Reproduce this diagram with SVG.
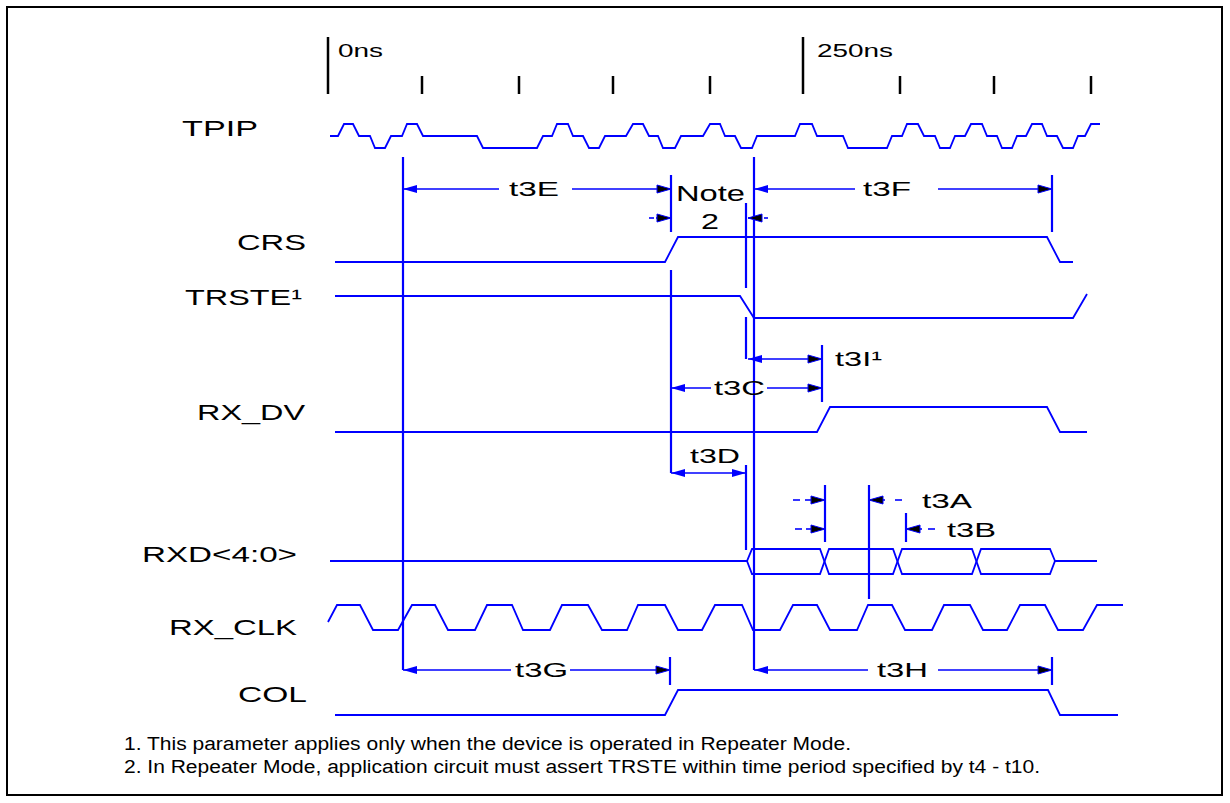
<svg xmlns="http://www.w3.org/2000/svg" width="1230" height="803" viewBox="0 0 1230 803">
<style>
.w{fill:none;stroke:#0000ff;stroke-width:1.8;stroke-linejoin:miter}
.v{stroke:#0000ff;stroke-width:2.2;fill:none}
.a{stroke:#0000ff;stroke-width:1.6;fill:none}
.tick{stroke:#000;stroke-width:2.5}
text{font-family:"Liberation Sans",Arial,Helvetica,sans-serif;fill:#000}
.lbl{font-size:22px}
.t{font-size:21px}
.ns{font-size:18px}
.fn{font-size:18px}
</style>
<defs>
<marker id="aBlue" markerUnits="userSpaceOnUse" viewBox="-1 -1 16 10" markerWidth="16" markerHeight="10" refX="14" refY="4" orient="auto-start-reverse"><path d="M0,0 L14,4 L0,8 z" fill="#0000ff"/></marker>
<marker id="aBlack" markerUnits="userSpaceOnUse" viewBox="-1 -1 16 10" markerWidth="16" markerHeight="10" refX="14" refY="4" orient="auto-start-reverse"><path d="M0,0 L14,4 L0,8 z" fill="#000" stroke="#0000ff" stroke-width="1"/></marker>
</defs>
<rect x="7" y="7" width="1215" height="788" fill="#fff" stroke="#000" stroke-width="2"/>

<g id="timescale">
<line class="tick" x1="328" y1="37" x2="328" y2="94"/>
<line class="tick" x1="422" y1="76" x2="422" y2="94"/>
<line class="tick" x1="519" y1="76" x2="519" y2="94"/>
<line class="tick" x1="613" y1="76" x2="613" y2="94"/>
<line class="tick" x1="710" y1="76" x2="710" y2="94"/>
<line class="tick" x1="803" y1="37" x2="803" y2="94"/>
<line class="tick" x1="900" y1="76" x2="900" y2="94"/>
<line class="tick" x1="994" y1="76" x2="994" y2="94"/>
<line class="tick" x1="1091" y1="76" x2="1091" y2="94"/>
<text class="ns" x="338" y="57" textLength="45" lengthAdjust="spacingAndGlyphs">0ns</text>
<text class="ns" x="817" y="57" textLength="76" lengthAdjust="spacingAndGlyphs">250ns</text>
</g>

<g id="TPIP">
<text class="lbl" x="182" y="136" textLength="76" lengthAdjust="spacingAndGlyphs">TPIP</text>
<path class="w" d="M330,136 H338 L344,124 H353 L359,136 H370 L375,148 H385 L391,136 H402 L407,124 H417 L423,136 H477 L483,148 H537 L543,136 H552 L557,124 H568 L573,136 H583 L589,148 H599 L605,136 H626 L633,124 H643 L649,136 H658 L663,148 H675 L681,136 H703 L710,124 H720 L725,136 H735 L741,148 H752 L757,136 H795 L800,124 H812 L817,136 H843 L848,148 H887 L892,136 H902 L907,124 H918 L924,136 H935 L940,148 H950 L955,136 H965 L971,124 H982 L987,136 H997 L1002,148 H1012 L1017,136 H1026 L1032,124 H1042 L1047,136 H1057 L1063,148 H1073 L1078,136 H1085 L1091,124 H1100"/>
</g>

<g id="CRS">
<text class="lbl" x="237" y="250" textLength="69" lengthAdjust="spacingAndGlyphs">CRS</text>
<path class="w" d="M335,262 H665 L678,237 H1047 L1060,262 H1073"/>
</g>

<g id="TRSTE">
<text class="lbl" x="185" y="305" textLength="117" lengthAdjust="spacingAndGlyphs">TRSTE¹</text>
<path class="w" d="M335,296 H740 L754,318 H1073 L1087,294"/>
</g>

<g id="RX_DV">
<text class="lbl" x="197" y="420" textLength="108" lengthAdjust="spacingAndGlyphs">RX_DV</text>
<path class="w" d="M335,432 H817 L830,407 H1047 L1060,432 H1087"/>
</g>

<g id="RXD">
<text class="lbl" x="142" y="562" textLength="155" lengthAdjust="spacingAndGlyphs">RXD&lt;4:0&gt;</text>
<path class="w" d="M330,561 H747 L752,549 H820 L829,574 H893 L902,549 H972 L981,574 H1050 L1055,561 H1097"/>
<path class="w" d="M747,561 L752,574 H820 L829,549 H893 L902,574 H972 L981,549 H1050 L1055,561"/>
</g>

<g id="RX_CLK">
<text class="lbl" x="169" y="635" textLength="128" lengthAdjust="spacingAndGlyphs">RX_CLK</text>
<path class="w" d="M328,622 L337,605 H360 L373,630 H398 L412,605 H435 L448,630 H475 L487,605 H512 L523,630 H550 L562,605 H588 L602,630 H627 L638,605 H665 L678,630 H702 L715,605 H742 L753,630 H780 L793,605 H817 L830,630 H857 L868,605 H892 L905,630 H932 L944,605 H970 L983,630 H1007 L1020,605 H1045 L1058,630 H1083 L1097,605 H1123"/>
</g>

<g id="COL">
<text class="lbl" x="238" y="702" textLength="69" lengthAdjust="spacingAndGlyphs">COL</text>
<path class="w" d="M335,715 H665 L678,690 H1048 L1060,715 H1118"/>
</g>

<g id="connectors">
<line class="v" x1="403" y1="157" x2="403" y2="670"/>
<line class="v" x1="754" y1="157" x2="754" y2="670"/>
<line class="v" x1="671" y1="175" x2="671" y2="232"/>
<line class="v" x1="671" y1="270" x2="671" y2="473"/>
<line class="v" x1="746" y1="203" x2="746" y2="288"/>
<line class="v" x1="746" y1="317" x2="746" y2="359"/>
<line class="v" x1="746" y1="465" x2="746" y2="550"/>
<line class="v" x1="822" y1="345" x2="822" y2="402"/>
<line class="v" x1="1052" y1="175" x2="1052" y2="232"/>
<line class="v" x1="825" y1="485" x2="825" y2="542"/>
<line class="v" x1="869" y1="485" x2="869" y2="599"/>
<line class="v" x1="906" y1="513" x2="906" y2="542"/>
<line class="v" x1="670" y1="657" x2="670" y2="685"/>
<line class="v" x1="1052" y1="657" x2="1052" y2="685"/>

<line class="a" x1="403" y1="189" x2="499" y2="189" marker-start="url(#aBlue)"/>
<line class="a" x1="572" y1="189" x2="671" y2="189" marker-end="url(#aBlack)"/>
<line class="a" x1="754" y1="189" x2="855" y2="189" marker-start="url(#aBlue)"/>
<line class="a" x1="938" y1="189" x2="1052" y2="189" marker-end="url(#aBlack)"/>

<line class="a" x1="649" y1="218" x2="654" y2="218"/>
<line class="a" x1="656" y1="218" x2="671" y2="218" marker-end="url(#aBlack)"/>
<line class="a" x1="762" y1="218" x2="748" y2="218" marker-end="url(#aBlack)"/>
<line class="a" x1="764" y1="218" x2="768" y2="218"/>

<line class="a" x1="748" y1="359" x2="822" y2="359" marker-start="url(#aBlue)" marker-end="url(#aBlack)"/>
<line class="a" x1="671" y1="388" x2="711" y2="388" marker-start="url(#aBlue)"/>
<line class="a" x1="767" y1="388" x2="822" y2="388" marker-end="url(#aBlack)"/>
<line class="a" x1="671" y1="473" x2="746" y2="473" marker-start="url(#aBlue)" marker-end="url(#aBlue)"/>

<line class="a" x1="793" y1="500" x2="800" y2="500"/>
<line class="a" x1="805" y1="500" x2="825" y2="500" marker-end="url(#aBlack)"/>
<line class="a" x1="885" y1="500" x2="869" y2="500" marker-end="url(#aBlack)"/>
<line class="a" x1="895" y1="500" x2="902" y2="500"/>
<line class="a" x1="795" y1="529" x2="802" y2="529"/>
<line class="a" x1="806" y1="529" x2="825" y2="529" marker-end="url(#aBlack)"/>
<line class="a" x1="922" y1="529" x2="906" y2="529" marker-end="url(#aBlack)"/>
<line class="a" x1="928" y1="529" x2="935" y2="529"/>

<line class="a" x1="403" y1="670" x2="511" y2="670" marker-start="url(#aBlue)"/>
<line class="a" x1="570" y1="670" x2="670" y2="670" marker-end="url(#aBlack)"/>
<line class="a" x1="754" y1="670" x2="868" y2="670" marker-start="url(#aBlue)"/>
<line class="a" x1="938" y1="670" x2="1052" y2="670" marker-end="url(#aBlack)"/>
</g>

<g id="timing-labels">
<text class="t" x="509" y="196" textLength="50" lengthAdjust="spacingAndGlyphs">t3E</text>
<text class="t" x="863" y="196" textLength="48" lengthAdjust="spacingAndGlyphs">t3F</text>
<text class="lbl" x="676" y="201" textLength="69" lengthAdjust="spacingAndGlyphs">Note</text>
<text class="lbl" x="701" y="229" textLength="18" lengthAdjust="spacingAndGlyphs">2</text>
<text class="t" x="835" y="366" textLength="47" lengthAdjust="spacingAndGlyphs">t3I¹</text>
<text class="t" x="714" y="395" textLength="51" lengthAdjust="spacingAndGlyphs">t3C</text>
<text class="t" x="690" y="463" textLength="50" lengthAdjust="spacingAndGlyphs">t3D</text>
<text class="t" x="922" y="508" textLength="50" lengthAdjust="spacingAndGlyphs">t3A</text>
<text class="t" x="947" y="537" textLength="49" lengthAdjust="spacingAndGlyphs">t3B</text>
<text class="t" x="515" y="677" textLength="53" lengthAdjust="spacingAndGlyphs">t3G</text>
<text class="t" x="877" y="677" textLength="51" lengthAdjust="spacingAndGlyphs">t3H</text>
</g>

<g id="footnotes">
<text class="fn" x="124" y="750" textLength="727" lengthAdjust="spacingAndGlyphs">1. This parameter applies only when the device is operated in Repeater Mode.</text>
<text class="fn" x="124" y="773" textLength="916" lengthAdjust="spacingAndGlyphs">2. In Repeater Mode, application circuit must assert TRSTE within time period specified by t4 - t10.</text>
</g>
</svg>
